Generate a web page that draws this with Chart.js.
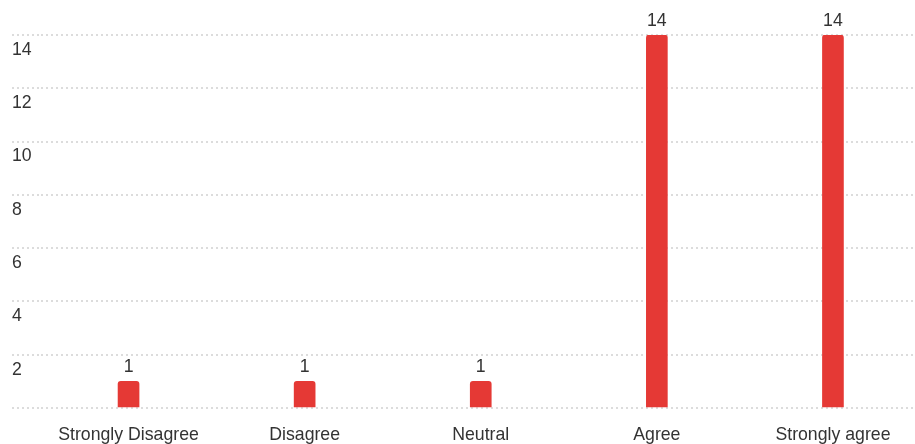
<!DOCTYPE html>
<html>
<head>
<meta charset="utf-8">
<script src="https://cdn.jsdelivr.net/npm/chart.js@4.4.1/dist/chart.umd.min.js"></script>
<style>
  html, body { margin: 0; padding: 0; overflow: hidden; background: #fff; }
  #wrap { position: relative; width: 921px; height: 444px; }
</style>
</head>
<body>
<div id="wrap"><canvas id="chart"></canvas></div>
<script>
const CATEGORIES = ["Strongly Disagree", "Disagree", "Neutral", "Agree", "Strongly agree"];
const RESPONSES = [1, 1, 1, 14, 14];
const Y_MAX = 14;
const Y_STEP = 2;

const COLORS = {
  bar: "#e53935",
  text: "#333333",
  grid: "#dcdcdc",
};

const FONT = { family: "'Liberation Sans', Arial, sans-serif", size: 17.7 };

// count printed over each bar
const valueLabels = {
  id: "valueLabels",
  afterDatasetsDraw: (chart) => {
    const { ctx } = chart;
    const meta = chart.getDatasetMeta(0);
    ctx.save();
    ctx.font = FONT.size + "px " + FONT.family;
    ctx.fillStyle = COLORS.text;
    ctx.textAlign = "center";
    ctx.textBaseline = "bottom";
    meta.data.forEach((bar, i) => {
      ctx.fillText(String(chart.data.datasets[0].data[i]), bar.x, bar.y - 5);
    });
    ctx.restore();
  },
};

Chart.defaults.font.family = FONT.family;
Chart.defaults.font.size = FONT.size;
Chart.defaults.color = COLORS.text;

new Chart(document.getElementById("chart"), {
  type: "bar",
  data: {
    labels: CATEGORIES,
    datasets: [
      {
        data: RESPONSES,
        backgroundColor: COLORS.bar,
        barThickness: 21,
        borderRadius: { topLeft: 3, topRight: 3 },
        borderSkipped: "bottom",
      },
    ],
  },
  options: {
    responsive: true,
    maintainAspectRatio: false,
    animation: false,
    layout: { padding: { top: 35, left: 12, right: 0, bottom: 0 } },
    scales: {
      x: {
        afterFit: (scale) => {
          scale.height = 36;
          scale.paddingLeft = 0;
          scale.paddingRight = 0;
        },
        grid: { display: false, drawTicks: false },
        border: { display: false },
        ticks: { padding: 16, maxRotation: 0, autoSkip: false },
      },
      y: {
        min: 0,
        max: Y_MAX,
        afterFit: (scale) => {
          scale.width = 28.5;
          scale.paddingTop = 0;
          scale.paddingBottom = 0;
        },
        grid: {
          color: COLORS.grid,
          lineWidth: 2,
          tickLength: 28.5,
          tickColor: COLORS.grid,
          tickWidth: 2,
          tickBorderDash: [2, 3],
        },
        border: { display: false, dash: [2, 3] },
        ticks: {
          stepSize: Y_STEP,
          crossAlign: "far",
          labelOffset: 15,
          padding: 0,
          callback: (value) => (value === 0 ? "" : value),
        },
      },
    },
    plugins: {
      legend: { display: false },
      tooltip: { enabled: false },
    },
  },
  plugins: [valueLabels],
});
</script>
</body>
</html>
